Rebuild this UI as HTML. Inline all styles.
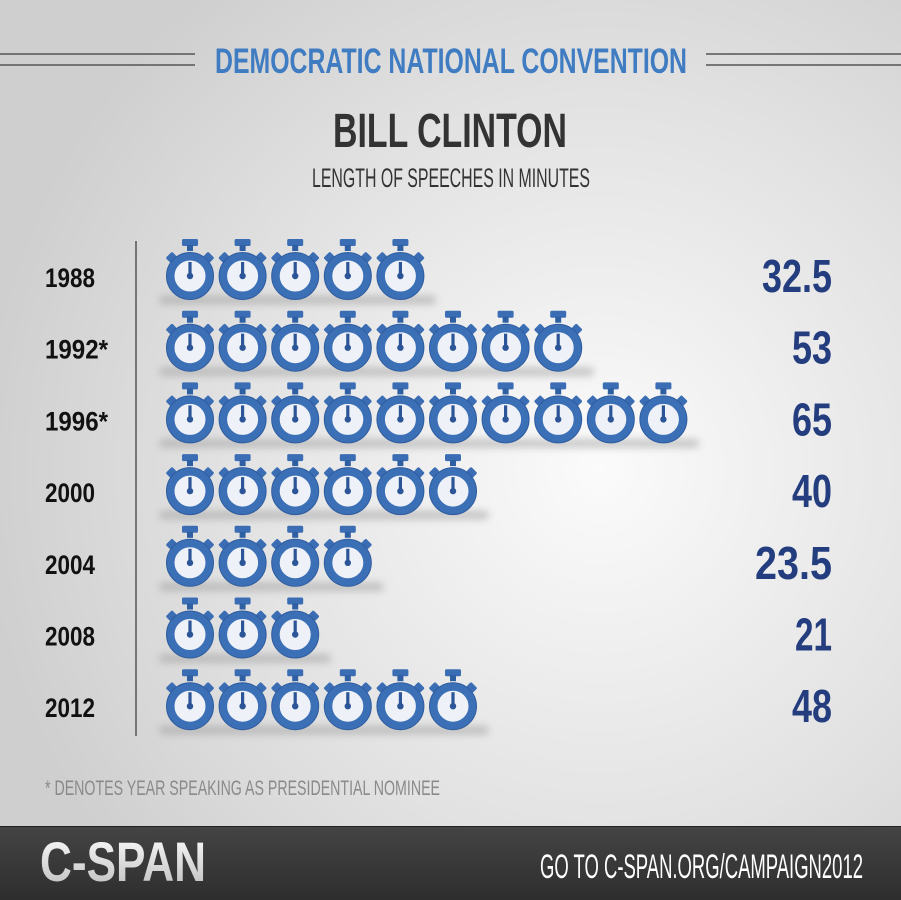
<!DOCTYPE html>
<html><head><meta charset="utf-8"><style>
html,body{margin:0;padding:0;width:901px;height:900px;overflow:hidden}
svg{display:block}
text{font-family:"Liberation Sans Narrow","Liberation Sans",sans-serif}
</style></head><body>
<svg id="s" width="901" height="900" viewBox="0 0 901 900" xmlns="http://www.w3.org/2000/svg">
<defs>
<radialGradient id="bg" cx="600" cy="470" r="620" gradientUnits="userSpaceOnUse">
<stop offset="0" stop-color="#fbfbfb"/><stop offset="0.6" stop-color="#e2e2e2"/><stop offset="1" stop-color="#cfcfcf"/>
</radialGradient>
<linearGradient id="ft" x1="0" y1="0" x2="0" y2="1"><stop offset="0" stop-color="#444"/><stop offset="1" stop-color="#2e2e2e"/></linearGradient>
<linearGradient id="logo" x1="0" y1="0" x2="0" y2="1"><stop offset="0" stop-color="#fff"/><stop offset="1" stop-color="#bbb"/></linearGradient>
<filter id="bl" x="-20%" y="-200%" width="140%" height="500%"><feGaussianBlur stdDeviation="4"/></filter>
<g id="w">
<rect x="-8" y="-37" width="16" height="7" rx="1.5" fill="#3a6db3"/>
<rect x="-3" y="-31" width="6" height="6" fill="#2f5fa3"/>
<rect x="-4.5" y="-4" width="9" height="7" rx="1.5" fill="#3a6db3" transform="rotate(-45) translate(0,-26)"/>
<rect x="-4.5" y="-4" width="9" height="7" rx="1.5" fill="#3a6db3" transform="rotate(45) translate(0,-26)"/>
<circle r="19.5" fill="#eef1f7" stroke="#3b6fb6" stroke-width="8"/>
<circle r="23.5" fill="none" stroke="#2f5c9e" stroke-width="1"/>
<rect x="-1.6" y="-14" width="3.2" height="14" fill="#2c5597"/>
<circle r="3.2" fill="#2c5597"/>
</g>
</defs>
<rect width="901" height="900" fill="url(#bg)"/>
<g stroke="#555" stroke-width="1.5">
<line x1="0" y1="54" x2="195" y2="54"/><line x1="0" y1="65" x2="195" y2="65"/>
<line x1="706" y1="54" x2="901" y2="54"/><line x1="706" y1="65" x2="901" y2="65"/>
</g>
<text x="215" y="73" font-size="35" font-weight="bold" fill="#3f7cc2" textLength="472" lengthAdjust="spacingAndGlyphs">DEMOCRATIC NATIONAL CONVENTION</text>
<text x="333" y="147" font-size="48" font-weight="bold" fill="#333" textLength="234" lengthAdjust="spacingAndGlyphs">BILL CLINTON</text>
<text x="312" y="187" font-size="27" fill="#333" textLength="278" lengthAdjust="spacingAndGlyphs">LENGTH OF SPEECHES IN MINUTES</text>
<line x1="136" y1="241" x2="136" y2="736" stroke="#555" stroke-width="1.5"/>
<g id="rows"></g>
<text x="45" y="795" font-size="21" fill="#8a8a8a" textLength="395" lengthAdjust="spacingAndGlyphs">* DENOTES YEAR SPEAKING AS PRESIDENTIAL NOMINEE</text>
<rect x="0" y="826" width="901" height="74" fill="url(#ft)"/>
<line x1="0" y1="826.5" x2="901" y2="826.5" stroke="#222" stroke-width="1"/>
<text x="40" y="881" font-size="56" font-weight="bold" fill="url(#logo)" textLength="166" lengthAdjust="spacingAndGlyphs">C-SPAN</text>
<text x="540" y="878" font-size="34" fill="#fff" textLength="323" lengthAdjust="spacingAndGlyphs">GO TO C-SPAN.ORG/CAMPAIGN2012</text>
</svg>
<script>
var data=[["1988",5,"32.5",70],["1992*",8,"53",40],["1996*",10,"65",40],["2000",6,"40",40],["2004",4,"23.5",77],["2008",3,"21",37],["2012",6,"48",40]];
var g=document.getElementById("rows"),h="";
data.forEach(function(d,i){
 var cy=276+i*71.7, n=d[1];
 var x2=190+(n-1)*52.6+35;
 h+='<rect x="160" y="'+(cy+20)+'" width="'+(x2-160)+'" height="8" fill="#9a9a9a" opacity="0.55" filter="url(#bl)"/>';
 for(var k=0;k<n;k++){h+='<use href="#w" x="'+(190+k*52.6)+'" y="'+cy+'"/>';}
 var yw=d[0].length==5?63:50;
 h+='<text x="45" y="'+(cy+11)+'" font-size="27" font-weight="bold" fill="#111" textLength="'+yw+'" lengthAdjust="spacingAndGlyphs">'+d[0]+'</text>';
 h+='<text x="'+(832-d[3])+'" y="'+(cy+16)+'" font-size="46" font-weight="bold" fill="#233d7e" textLength="'+d[3]+'" lengthAdjust="spacingAndGlyphs">'+d[2]+'</text>';
});
g.innerHTML=h;
</script>
</body></html>
